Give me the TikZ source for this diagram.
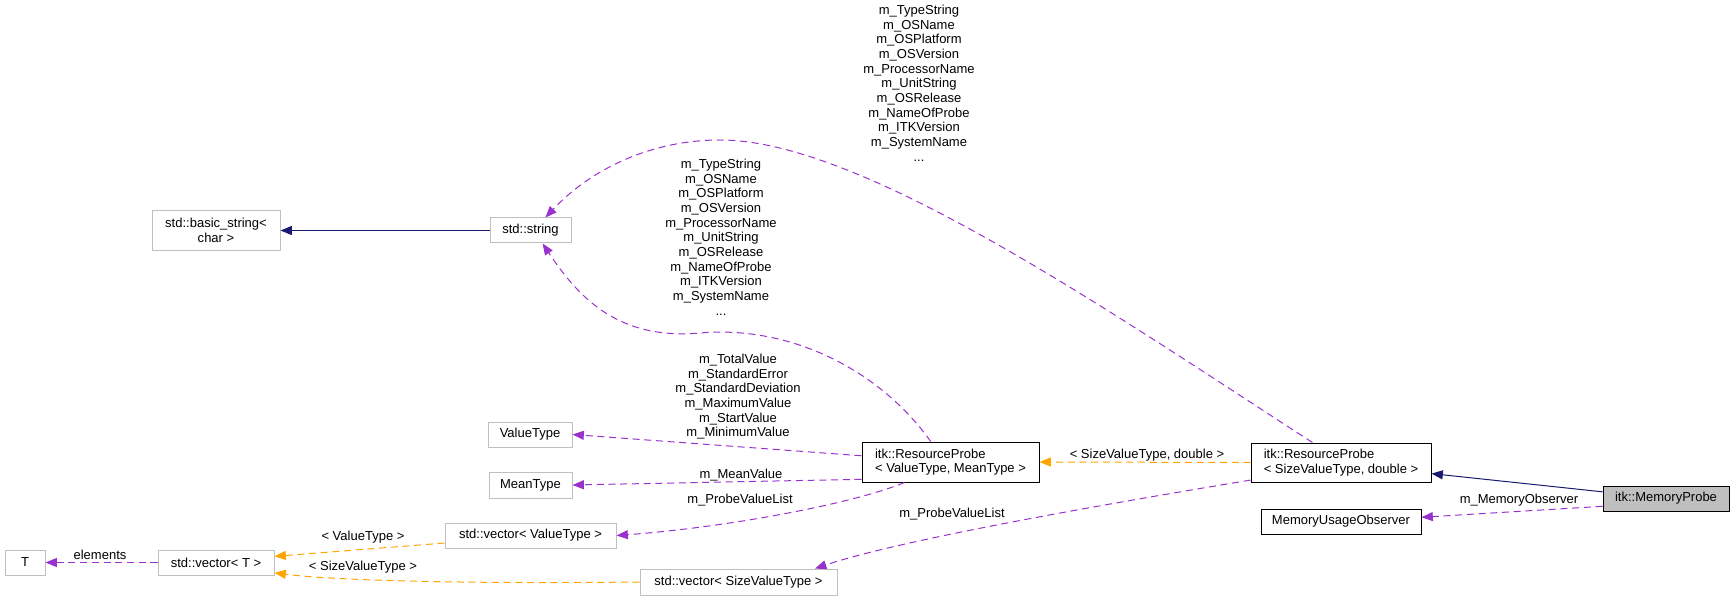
\documentclass[tikz,border=0pt]{standalone}
\usepackage{fontspec}
\setmainfont{Liberation Sans}
\usepackage{tikz}
\usetikzlibrary{arrows.meta}
\definecolor{figinh}{RGB}{25,25,112}
\definecolor{figuse}{RGB}{153,50,204}
\definecolor{figtpl}{RGB}{255,165,0}
\definecolor{figedge}{RGB}{191,191,191}
\newcommand{\px}{0.03cm}
\newcommand{\dgfont}{\fontsize{11.1}{12.5}\selectfont}
\tikzset{
  cls/.style  ={draw=black, line width=0.85pt, inner sep=0pt, font=\dgfont},
  clsu/.style ={cls, draw=figedge},
  lbl/.style  ={inner sep=0pt, align=center, font=\dgfont},
  inh/.style  ={draw=figinh, line width=0.85pt, -{Triangle[length=3.4mm,width=2.7mm]}},
  use/.style  ={draw=figuse, line width=0.85pt, dash pattern=on 6pt off 4pt, -{Triangle[length=3.4mm,width=2.7mm]}},
  tpl/.style  ={draw=figtpl, line width=0.85pt, dash pattern=on 6pt off 4pt, -{Triangle[length=3.4mm,width=2.7mm]}},
}

\begin{document}
\begin{tikzpicture}[x=\px,y=-\px]
  \useasboundingbox (0,0) rectangle (1733,601);
  % classes
  \node[clsu, align=center, minimum width=128*\px, minimum height=40*\px] (bstr) at (216,230.5) {std::basic\_string<\\char >};
  \node[clsu, minimum width=81*\px, minimum height=25*\px] (str) at (530.5,230.5) {std::string};
  \node[clsu, minimum width=84*\px, minimum height=25*\px] (vtype) at (530,434.5) {ValueType};
  \node[clsu, minimum width=83*\px, minimum height=26*\px] (mtype) at (530.5,485) {MeanType};
  \node[clsu, minimum width=171*\px, minimum height=25*\px] (vecvt) at (530.5,535.5) {std::vector< ValueType >};
  \node[clsu, minimum width=197*\px, minimum height=26*\px] (vecsvt) at (738.5,582) {std::vector< SizeValueType >};
  \node[clsu, minimum width=40*\px, minimum height=25*\px] (tnode) at (25,562.5) {T};
  \node[clsu, minimum width=116*\px, minimum height=25*\px] (vect) at (216,562.5) {std::vector< T >};
  \node[cls, align=left, minimum width=177*\px, minimum height=40*\px] (rpvt) at (950.5,462) {itk::ResourceProbe\\< ValueType, MeanType >};
  \node[cls, align=left, minimum width=180*\px, minimum height=39*\px] (rpsvt) at (1341,462.5) {itk::ResourceProbe\\< SizeValueType, double >};
  \node[cls, minimum width=160*\px, minimum height=25*\px] (muo) at (1341,521.5) {MemoryUsageObserver};
  \node[cls, fill=figedge, minimum width=126*\px, minimum height=25*\px] (mprobe) at (1666,498.5) {itk::MemoryProbe};
  % connectors
  \draw[inh] (str.west) -- (bstr.east);
  \draw[inh] (mprobe.174) -- (rpsvt.353);
  \draw[use] (mprobe.187) -- (muo.3);
  \draw[tpl] (rpsvt.west) -- (rpvt.east);
  \draw[use] (rpsvt.145) .. controls (1100,305) and (860,140) .. (720,140)
    .. controls (650,140) and (590,170) .. (str.41);
  \draw[use] (rpvt.134) .. controls (880,370) and (790,325) .. (700,333)
    .. controls (620,340) and (580,300) .. (str.313);
  \draw[use] (rpvt.176) -- (vtype.east);
  \draw[use] (rpvt.191) -- (mtype.east);
  \draw[use] (rpvt.204) .. controls (850,505) and (720,528) .. (vecvt.east);
  \draw[use] (rpsvt.191) .. controls (1100,505) and (900,540) .. (vecsvt.10);
  \draw[tpl] (vecvt.185) -- (vect.6);
  \draw[tpl] (vecsvt.west) .. controls (450,584) and (330,580) .. (vect.350);
  \draw[use] (vect.west) -- (tnode.east);
  % edge labels
  \node[lbl, anchor=north] (lsvtstr) at (919,5) {m\_TypeString\\m\_OSName\\m\_OSPlatform\\m\_OSVersion\\m\_ProcessorName\\m\_UnitString\\m\_OSRelease\\m\_NameOfProbe\\m\_ITKVersion\\m\_SystemName\\...};
  \node[lbl, anchor=north] (lvtstr) at (721,159) {m\_TypeString\\m\_OSName\\m\_OSPlatform\\m\_OSVersion\\m\_ProcessorName\\m\_UnitString\\m\_OSRelease\\m\_NameOfProbe\\m\_ITKVersion\\m\_SystemName\\...};
  \node[lbl, anchor=north] (lvals) at (738,354) {m\_TotalValue\\m\_StandardError\\m\_StandardDeviation\\m\_MaximumValue\\m\_StartValue\\m\_MinimumValue};
  \node[lbl] (lmean) at (741,475) {m\_MeanValue};
  \node[lbl] (llist) at (740,500) {m\_ProbeValueList};
  \node[lbl] (lslist) at (952,514) {m\_ProbeValueList};
  \node[lbl] (lsd) at (1147,455) {< SizeValueType, double >};
  \node[lbl] (lobs) at (1519,500) {m\_MemoryObserver};
  \node[lbl] (lelem) at (100,555) {elements};
  \node[lbl] (lvt) at (363,537) {< ValueType >};
  \node[lbl] (lsvt) at (363,567) {< SizeValueType >};
\end{tikzpicture}
\end{document}
